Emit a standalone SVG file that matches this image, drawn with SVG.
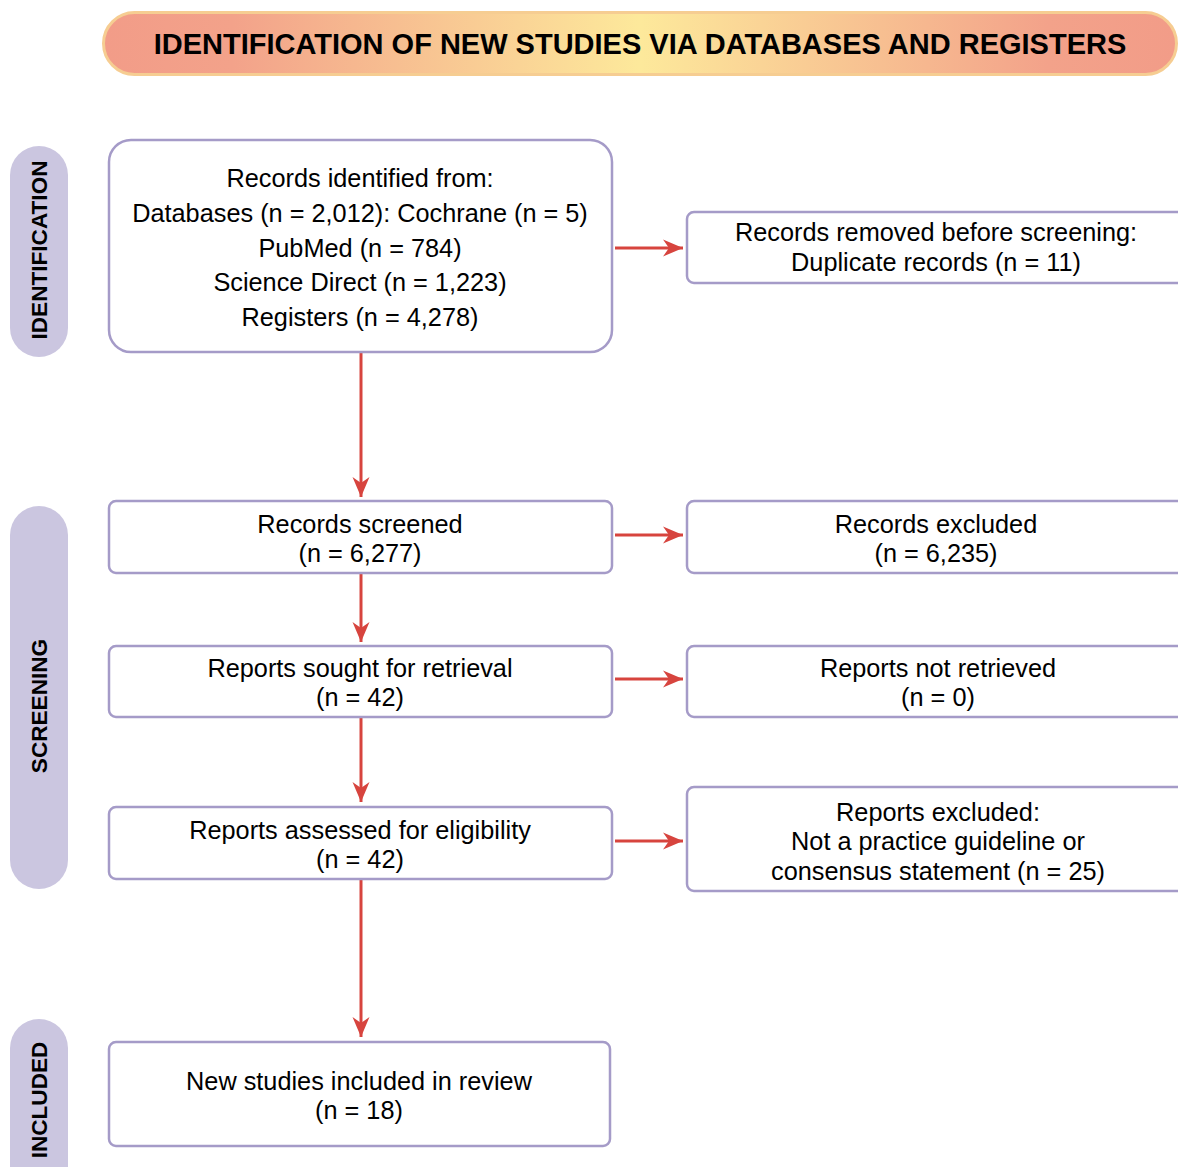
<svg xmlns="http://www.w3.org/2000/svg" width="1178" height="1167" viewBox="0 0 1178 1167">
<defs>
<linearGradient id="hg" x1="103" y1="0" x2="1177" y2="0" gradientUnits="userSpaceOnUse">
<stop offset="0" stop-color="#f29c88"/>
<stop offset="0.12" stop-color="#f3a28a"/>
<stop offset="0.5" stop-color="#fde99b"/>
<stop offset="0.88" stop-color="#f3a28a"/>
<stop offset="1" stop-color="#f29c88"/>
</linearGradient>
<marker id="ah" markerWidth="22" markerHeight="20" refX="20" refY="10" orient="auto" markerUnits="userSpaceOnUse">
<path d="M0,1.5 L20,10 L0,18.5 L6,10 z" fill="#d7443e"/>
</marker>
<style>
.box{fill:#fff;stroke:#a59bc8;stroke-width:2.5}
.side{fill:#cbc6e0}
.t{font-family:"Liberation Sans",Arial,sans-serif;font-size:25.3px;fill:#000;text-anchor:middle}
.st{font-family:"Liberation Sans",Arial,sans-serif;font-size:22.6px;font-weight:bold;fill:#000;text-anchor:middle}
.ht{font-family:"Liberation Sans",Arial,sans-serif;font-size:29px;font-weight:bold;fill:#000;text-anchor:middle}
.c{stroke:#d7443e;stroke-width:3;fill:none;marker-end:url(#ah)}
</style>
</defs>
<rect width="1178" height="1167" fill="#fff"/>
<g id="header">
<rect x="103.5" y="12.5" width="1073" height="62" rx="31" fill="url(#hg)" stroke="#f6cd92" stroke-width="3"/>
<text class="ht" x="640" y="54">IDENTIFICATION OF NEW STUDIES VIA DATABASES AND REGISTERS</text>
</g>
<g id="side-identification">
<rect class="side" x="10" y="146" width="58" height="211" rx="29"/>
<text class="st" transform="translate(39,250) rotate(-90)" y="8">IDENTIFICATION</text>
</g>
<g id="side-screening">
<rect class="side" x="10" y="506" width="58" height="383" rx="29"/>
<text class="st" transform="translate(39,706) rotate(-90)" y="8">SCREENING</text>
</g>
<g id="side-included">
<rect class="side" x="10" y="1019" width="58" height="190" rx="29"/>
<text class="st" transform="translate(39,1100) rotate(-90)" y="8">INCLUDED</text>
</g>
<g id="connectors">
<line class="c" x1="615" y1="248" x2="683" y2="248"/>
<line class="c" x1="615" y1="535" x2="683" y2="535"/>
<line class="c" x1="615" y1="679" x2="683" y2="679"/>
<line class="c" x1="615" y1="841" x2="683" y2="841"/>
<line class="c" x1="361" y1="352" x2="361" y2="497"/>
<line class="c" x1="361" y1="573" x2="361" y2="642"/>
<line class="c" x1="361" y1="717" x2="361" y2="802"/>
<line class="c" x1="361" y1="879" x2="361" y2="1037"/>
</g>
<g id="records-identified">
<rect class="box" x="109" y="140" width="503" height="212" rx="22"/>
<text class="t" x="360" y="187">Records identified from:</text>
<text class="t" x="360" y="222">Databases (n = 2,012): Cochrane (n = 5)</text>
<text class="t" x="360" y="257">PubMed (n = 784)</text>
<text class="t" x="360" y="291">Science Direct (n = 1,223)</text>
<text class="t" x="360" y="326">Registers (n = 4,278)</text>
</g>
<g id="records-removed">
<rect class="box" x="687" y="212" width="500" height="71" rx="7"/>
<text class="t" x="936" y="241">Records removed before screening:</text>
<text class="t" x="936" y="271">Duplicate records (n = 11)</text>
</g>
<g id="records-screened">
<rect class="box" x="109" y="501" width="503" height="72" rx="7"/>
<text class="t" x="360" y="533">Records screened</text>
<text class="t" x="360" y="562">(n = 6,277)</text>
</g>
<g id="records-excluded">
<rect class="box" x="687" y="501" width="500" height="72" rx="7"/>
<text class="t" x="936" y="533">Records excluded</text>
<text class="t" x="936" y="562">(n = 6,235)</text>
</g>
<g id="reports-sought">
<rect class="box" x="109" y="646" width="503" height="71" rx="7"/>
<text class="t" x="360" y="677">Reports sought for retrieval</text>
<text class="t" x="360" y="706">(n = 42)</text>
</g>
<g id="reports-not-retrieved">
<rect class="box" x="687" y="646" width="500" height="71" rx="7"/>
<text class="t" x="938" y="677">Reports not retrieved</text>
<text class="t" x="938" y="706">(n = 0)</text>
</g>
<g id="reports-assessed">
<rect class="box" x="109" y="807" width="503" height="72" rx="7"/>
<text class="t" x="360" y="839">Reports assessed for eligibility</text>
<text class="t" x="360" y="868">(n = 42)</text>
</g>
<g id="reports-excluded">
<rect class="box" x="687" y="787" width="500" height="104" rx="7"/>
<text class="t" x="938" y="821">Reports excluded:</text>
<text class="t" x="938" y="850">Not a practice guideline or</text>
<text class="t" x="938" y="880">consensus statement (n = 25)</text>
</g>
<g id="included">
<rect class="box" x="109" y="1042" width="501" height="104" rx="7"/>
<text class="t" x="359" y="1090">New studies included in review</text>
<text class="t" x="359" y="1119">(n = 18)</text>
</g>
</svg>
